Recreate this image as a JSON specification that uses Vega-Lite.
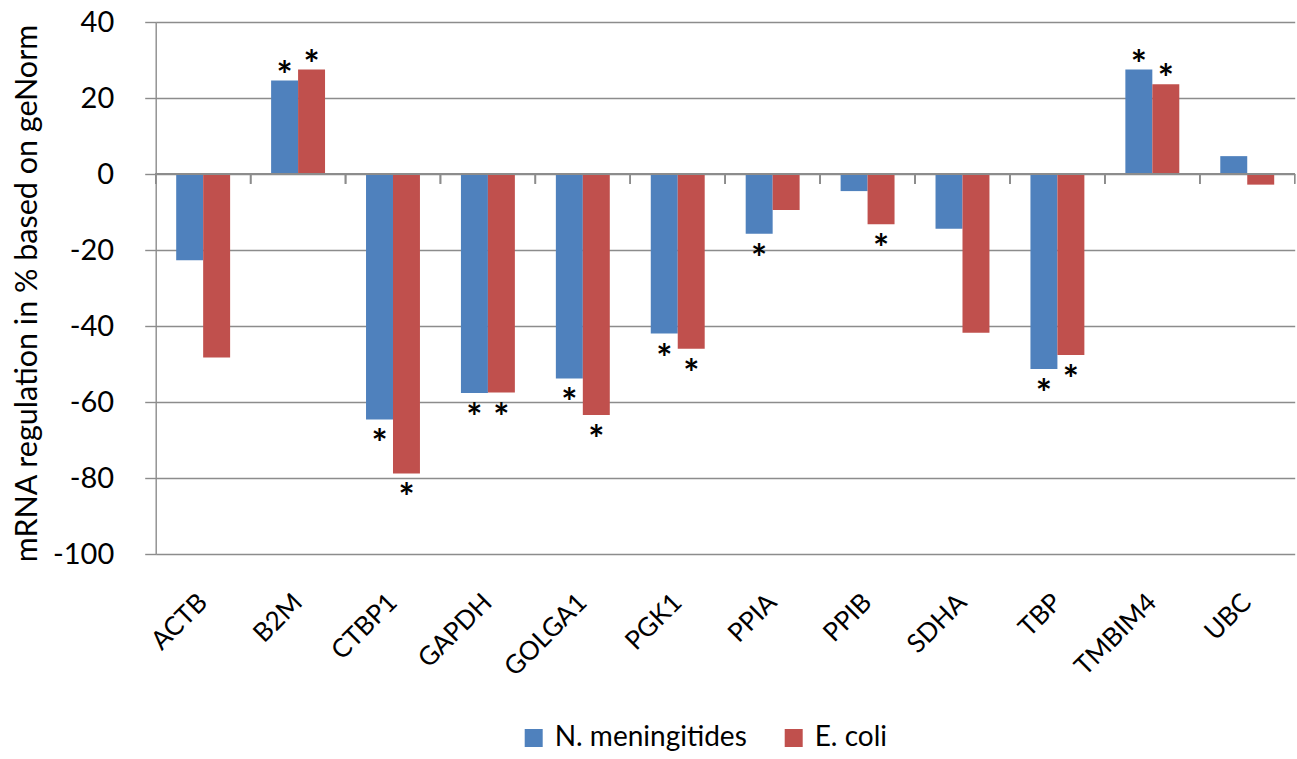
{
  "$schema": "https://vega.github.io/schema/vega-lite/v6.json",
  "width": 1139,
  "height": 532,
  "autosize": {"type": "none"},
  "padding": {"left": 155.7, "top": 22, "right": 2.3, "bottom": 205},
  "background": "white",
  "config": {
    "font": "Lato",
    "view": {"stroke": null},
    "axis": {"labelFont": "Lato", "titleFont": "Lato", "labelColor": "black", "titleColor": "black", "titleFontWeight": "normal"},
    "legend": {"labelFont": "Lato"}
  },
  "data": {
    "values": [
      {"gene": "ACTB", "series": "N. meningitides", "value": -22.7, "sig": ""},
      {"gene": "ACTB", "series": "E. coli", "value": -48.3, "sig": ""},
      {"gene": "B2M", "series": "N. meningitides", "value": 24.6, "sig": "*"},
      {"gene": "B2M", "series": "E. coli", "value": 27.5, "sig": "*"},
      {"gene": "CTBP1", "series": "N. meningitides", "value": -64.6, "sig": "*"},
      {"gene": "CTBP1", "series": "E. coli", "value": -78.8, "sig": "*"},
      {"gene": "GAPDH", "series": "N. meningitides", "value": -57.6, "sig": "*"},
      {"gene": "GAPDH", "series": "E. coli", "value": -57.5, "sig": "*"},
      {"gene": "GOLGA1", "series": "N. meningitides", "value": -53.8, "sig": "*"},
      {"gene": "GOLGA1", "series": "E. coli", "value": -63.4, "sig": "*"},
      {"gene": "PGK1", "series": "N. meningitides", "value": -42.0, "sig": "*"},
      {"gene": "PGK1", "series": "E. coli", "value": -46.0, "sig": "*"},
      {"gene": "PPIA", "series": "N. meningitides", "value": -15.7, "sig": "*"},
      {"gene": "PPIA", "series": "E. coli", "value": -9.5, "sig": ""},
      {"gene": "PPIB", "series": "N. meningitides", "value": -4.5, "sig": ""},
      {"gene": "PPIB", "series": "E. coli", "value": -13.2, "sig": "*"},
      {"gene": "SDHA", "series": "N. meningitides", "value": -14.4, "sig": ""},
      {"gene": "SDHA", "series": "E. coli", "value": -41.8, "sig": ""},
      {"gene": "TBP", "series": "N. meningitides", "value": -51.3, "sig": "*"},
      {"gene": "TBP", "series": "E. coli", "value": -47.6, "sig": "*"},
      {"gene": "TMBIM4", "series": "N. meningitides", "value": 27.5, "sig": "*"},
      {"gene": "TMBIM4", "series": "E. coli", "value": 23.6, "sig": "*"},
      {"gene": "UBC", "series": "N. meningitides", "value": 4.7, "sig": ""},
      {"gene": "UBC", "series": "E. coli", "value": -2.8, "sig": ""}
    ]
  },
  "layer": [
    {
      "mark": {"type": "bar"},
      "encoding": {
        "x": {
          "field": "gene", "type": "nominal", "sort": null,
          "scale": {"paddingInner": 0, "paddingOuter": 0},
          "axis": {
            "orient": "bottom", "title": null, "domain": false, "ticks": false, "grid": false,
            "labelAngle": -45, "labelAlign": "right", "labelBaseline": "middle",
            "labelFontSize": 26, "labelPadding": 44, "labelDx": -5
          }
        },
        "xOffset": {
          "field": "series", "type": "nominal",
          "sort": ["N. meningitides", "E. coli"],
          "scale": {"paddingInner": 0, "paddingOuter": 0.76}
        },
        "y": {
          "field": "value", "type": "quantitative",
          "scale": {"domain": [-100, 40], "nice": false, "zero": false},
          "axis": {
            "title": "mRNA regulation in % based on geNorm",
            "titleFontSize": 30.5, "titleAngle": -90, "titleX": -113, "titleY": 271,
            "titleAlign": "center", "titleBaseline": "bottom",
            "values": [-100, -80, -60, -40, -20, 0, 20, 40],
            "labelExpr": "replace(datum.label, '−', '-')",
            "grid": true, "gridColor": "#8c8c8c", "gridWidth": 1.4,
            "domainColor": "#8c8c8c", "domainWidth": 1.4,
            "tickColor": "#8c8c8c", "tickWidth": 1.4, "tickSize": 11,
            "labelFontSize": 29, "labelPadding": 31
          }
        },
        "color": {
          "field": "series", "type": "nominal",
          "sort": ["N. meningitides", "E. coli"],
          "scale": {"domain": ["N. meningitides", "E. coli"], "range": ["#4F81BD", "#C0504D"]},
          "legend": {
            "title": null, "orient": "none", "direction": "horizontal",
            "legendX": 364, "legendY": 702,
            "symbolType": "square", "symbolSize": 324, "symbolStrokeWidth": 0,
            "labelFontSize": 28, "labelOffset": 7, "columnPadding": 32, "labelLimit": 400
          }
        }
      }
    },
    {
      "mark": {"type": "rule", "color": "#8c8c8c", "strokeWidth": 1.6},
      "encoding": {"y": {"datum": 0}}
    },
    {
      "mark": {"type": "rule", "color": "#8c8c8c", "strokeWidth": 1.4},
      "encoding": {
        "x": {"field": "gene", "type": "nominal", "sort": null, "bandPosition": 0},
        "y": {"datum": 0},
        "y2": {"datum": -2.6}
      }
    },
    {
      "mark": {"type": "rule", "color": "#8c8c8c", "strokeWidth": 1.4},
      "encoding": {
        "x": {"field": "gene", "type": "nominal", "sort": null, "bandPosition": 1},
        "y": {"datum": 0},
        "y2": {"datum": -2.6}
      }
    },
    {
      "transform": [{"filter": "datum.sig == '*' && datum.value < 0"}],
      "mark": {"type": "text", "fontSize": 38, "fontWeight": "bold", "baseline": "middle", "dy": 27, "color": "black"},
      "encoding": {
        "x": {"field": "gene", "type": "nominal", "sort": null},
        "xOffset": {"field": "series", "type": "nominal", "sort": ["N. meningitides", "E. coli"]},
        "y": {"field": "value", "type": "quantitative"},
        "text": {"field": "sig"}
      }
    },
    {
      "transform": [{"filter": "datum.sig == '*' && datum.value > 0"}],
      "mark": {"type": "text", "fontSize": 38, "fontWeight": "bold", "baseline": "middle", "dy": -3, "color": "black"},
      "encoding": {
        "x": {"field": "gene", "type": "nominal", "sort": null},
        "xOffset": {"field": "series", "type": "nominal", "sort": ["N. meningitides", "E. coli"]},
        "y": {"field": "value", "type": "quantitative"},
        "text": {"field": "sig"}
      }
    }
  ]
}
